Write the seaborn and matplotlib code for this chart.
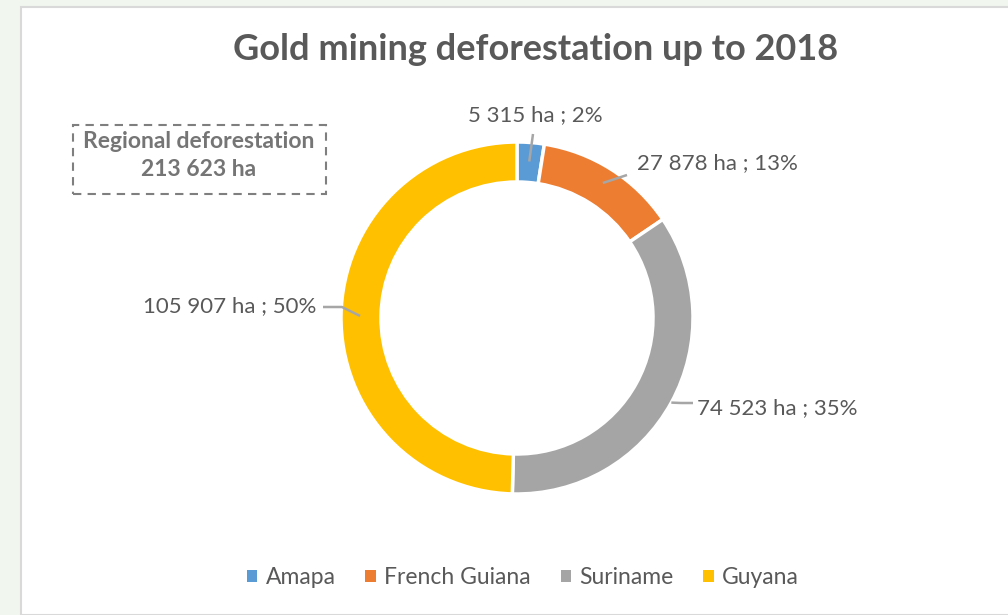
import numpy as np
import matplotlib.pyplot as plt
import seaborn as sns
from matplotlib.patches import Rectangle, Patch

# data
regions = ["Amapa", "French Guiana", "Suriname", "Guyana"]
area_ha = [5315, 27878, 74523, 105907]
colors = ["#5B9BD5", "#ED7D31", "#A5A5A5", "#FFC000"]
total_label = "213 623 ha"

sns.set_theme(style="white")
plt.rcParams["font.family"] = ["Lato", "DejaVu Sans"]

W, H = 1008, 615
fig = plt.figure(figsize=(W / 100, H / 100), dpi=100, facecolor="#F1F7EE")
# white chart area with light border
fig.patches.append(Rectangle((21 / W, 0), 1, 1 - 7 / H, transform=fig.transFigure,
                             facecolor="white", edgecolor="#D9D9D9", linewidth=1.5, zorder=-1))

ax = fig.add_axes([0, 0, 1, 1])
ax.patch.set_alpha(0)
cx, cy, R = 517, H - 318, 176
wedges, _ = ax.pie(area_ha, colors=colors, center=(cx, cy), radius=R, startangle=90,
                   counterclock=False, wedgeprops=dict(width=40, edgecolor="white", linewidth=2.5))
ax.set_xlim(0, W)
ax.set_ylim(0, H)
ax.set_aspect("equal")
ax.axis("off")

txt = "#595959"

def fmt(v):
    return f"{v:,}".replace(",", " ")

total = sum(area_ha)
# label anchors (offset from centre), alignment, leader line points and radius on the ring
label_pos = [(18, 203, "center"), (120, 155, "left"), (180, -90, "left"), (-201, 12, "right")]
leader = [[(16, 184)], [(110, 143)], [(176, -85), (164, -85)], [(-194, 11), (-175, 11)]]
ring_r = [157, 160, 176, 157]
for w, v, (lx, ly, ha), pts, rr in zip(wedges, area_ha, label_pos, leader, ring_r):
    ang = np.deg2rad((w.theta1 + w.theta2) / 2)
    xs = [cx + p[0] for p in pts] + [cx + rr * np.cos(ang)]
    ys = [cy + p[1] for p in pts] + [cy + rr * np.sin(ang)]
    ax.plot(xs, ys, color="#A6A6A6", lw=1.8, zorder=3, solid_capstyle="butt")
    pct = round(100 * v / total)
    ax.text(cx + lx, cy + ly, f"{fmt(v)} ha ; {pct}%", ha=ha, va="center",
            fontsize=16, color=txt)

fig.text(536 / W, 1 - 50 / H, "Gold mining deforestation up to 2018", ha="center",
         va="center", fontsize=26, fontweight="bold", color=txt)

# dashed annotation box
fig.patches.append(Rectangle((73 / W, 1 - 194 / H), 253 / W, 69 / H, transform=fig.transFigure,
                             facecolor="none", edgecolor="#7F7F7F", linewidth=1.5,
                             linestyle=(0, (4, 3)), zorder=3))
fig.text(199 / W, 1 - 141 / H, "Regional deforestation", ha="center", va="center",
         fontsize=16.5, fontweight="bold", color="#757575")
fig.text(199 / W, 1 - 170 / H, total_label, ha="center", va="center",
         fontsize=16.5, fontweight="bold", color="#757575")

handles = [Patch(facecolor=c, edgecolor="none", label=r) for c, r in zip(colors, regions)]
fig.legend(handles=handles, loc="center", bbox_to_anchor=(523 / W, 1 - 578 / H), ncol=4,
           frameon=False, fontsize=16.5, handlelength=0.44, handleheight=0.44,
           handletextpad=0.38, columnspacing=1.3, labelcolor=txt)

fig.savefig("out.png", dpi=100, facecolor=fig.get_facecolor())
